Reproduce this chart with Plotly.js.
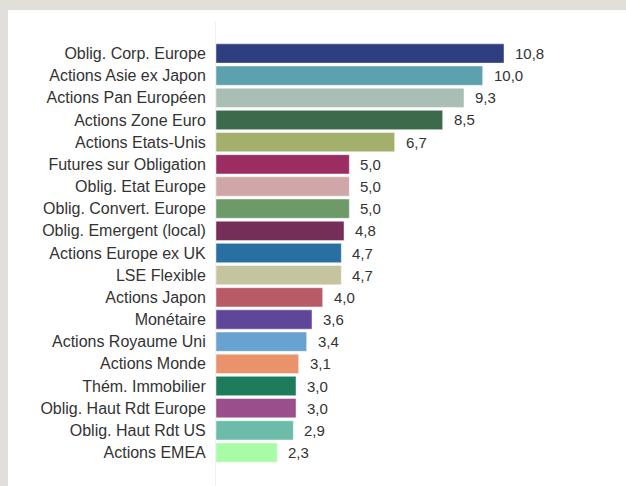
<!DOCTYPE html>
<html>
<head>
<meta charset="utf-8">
<script src="https://cdn.plot.ly/plotly-3.0.1.min.js"></script>
<style>
html,body{margin:0;padding:0;background:#e2deda;width:626px;height:486px;overflow:hidden;}
#chart{position:absolute;left:8px;top:10px;width:618px;height:476px;background:#ffffff;}
</style>
</head>
<body>
<div id="chart"></div>
<script>
const categories = [
  "Oblig. Corp. Europe","Actions Asie ex Japon","Actions Pan Européen","Actions Zone Euro",
  "Actions Etats-Unis","Futures sur Obligation","Oblig. Etat Europe","Oblig. Convert. Europe",
  "Oblig. Emergent (local)","Actions Europe ex UK","LSE Flexible","Actions Japon","Monétaire",
  "Actions Royaume Uni","Actions Monde","Thém. Immobilier","Oblig. Haut Rdt Europe",
  "Oblig. Haut Rdt US","Actions EMEA"
];
const values = [10.8,10.0,9.3,8.5,6.7,5.0,5.0,5.0,4.8,4.7,4.7,4.0,3.6,3.4,3.1,3.0,3.0,2.9,2.3];
const valueLabels = ["10,8","10,0","9,3","8,5","6,7","5,0","5,0","5,0","4,8","4,7","4,7","4,0","3,6","3,4","3,1","3,0","3,0","2,9","2,3"];
const colors = [
  "#2f3e80","#5ca1ad","#a9bfb5","#3e6a4c","#a3b06b","#9c2d63","#cfa7a8","#6d9a68",
  "#742e58","#2a6fa1","#c6c49e","#b85b67","#5f4698","#68a2d0","#e9926b","#1d7c5b",
  "#9a4e8c","#6dbcaa","#a8fca8"
];

const trace = {
  type: "bar",
  orientation: "h",
  y: categories,
  x: values,
  marker: {color: colors, line: {color: "rgba(255,255,255,0.45)", width: 1}},
  hoverinfo: "none"
};

const annotations = categories.map((c, i) => ({
  x: values[i], y: c, xref: "x", yref: "y",
  text: valueLabels[i], showarrow: false,
  xanchor: "left", xshift: 9,
  font: {family: "Liberation Sans, Arial, sans-serif", size: 15, color: "#333333"}
}));

const layout = {
  width: 618, height: 476,
  margin: {l: 208, r: 10, t: 12, b: 0, pad: 0},
  paper_bgcolor: "#ffffff", plot_bgcolor: "#ffffff",
  showlegend: false,
  bargap: 0.13,
  font: {family: "Liberation Sans, Arial, sans-serif", size: 15, color: "#333333"},
  xaxis: {range: [0, 15], visible: false, showgrid: false, zeroline: false, fixedrange: true},
  yaxis: {
    type: "category", range: [19.51, -1.42],
    showgrid: false, zeroline: false,
    showline: true, linecolor: "#f0f0f0", linewidth: 1,
    ticks: "outside", ticklen: 6, tickcolor: "rgba(0,0,0,0)",
    tickfont: {family: "Liberation Sans, Arial, sans-serif", size: 16, color: "#333333"},
    fixedrange: true
  },
  annotations: annotations
};

Plotly.newPlot("chart", [trace], layout, {displayModeBar: false, staticPlot: true});
</script>
</body>
</html>
